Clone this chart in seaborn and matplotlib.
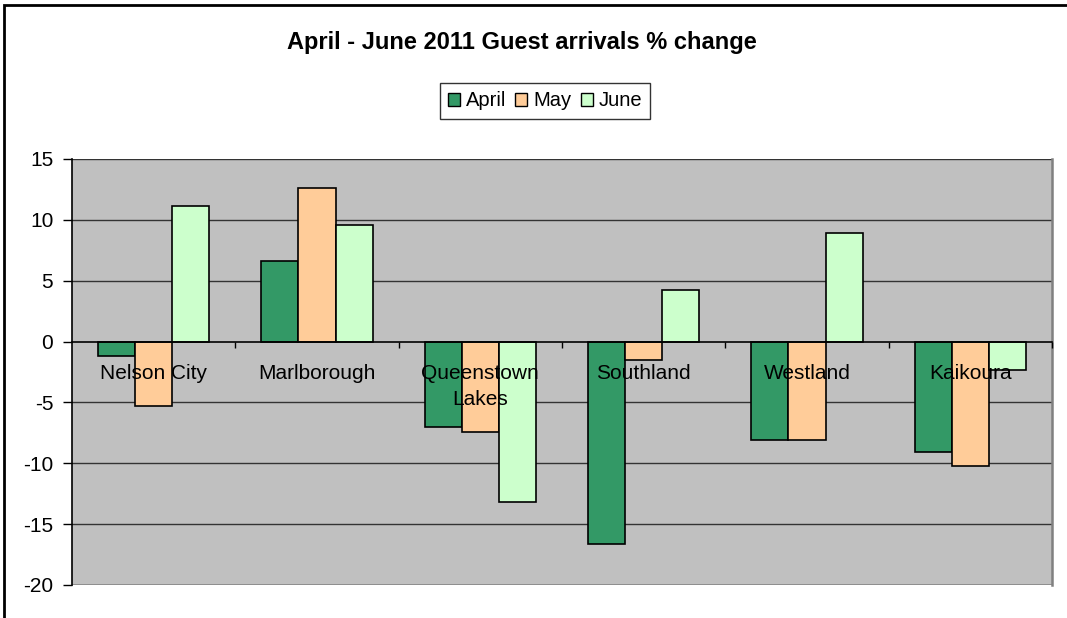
import matplotlib
matplotlib.use("Agg")
import matplotlib.pyplot as plt
import seaborn as sns
import pandas as pd

regions = ["Nelson City", "Marlborough", "Queenstown Lakes", "Southland", "Westland", "Kaikoura"]
region_labels = ["Nelson City", "Marlborough", "Queenstown\nLakes", "Southland", "Westland", "Kaikoura"]
months = ["April", "May", "June"]
april = [-1.15, 6.65, -7.0, -16.6, -8.05, -9.1]
may = [-5.3, 12.6, -7.4, -1.5, -8.05, -10.2]
june = [11.1, 9.55, -13.2, 4.2, 8.95, -2.35]
colors = ["#339966", "#FFCC99", "#CCFFCC"]
yticks = [-20, -15, -10, -5, 0, 5, 10, 15]

rows = []
for m, vals in zip(months, [april, may, june]):
    for r, v in zip(regions, vals):
        rows.append({"Region": r, "Month": m, "Value": v})
df = pd.DataFrame(rows)

sns.set_theme(style="white")
plt.rcParams['font.family'] = ['Liberation Sans', 'DejaVu Sans']
plt.rcParams['text.color'] = 'black'
plt.rcParams['xtick.color'] = 'black'
plt.rcParams['ytick.color'] = 'black'
plt.rcParams['xtick.labelcolor'] = 'black'
plt.rcParams['ytick.labelcolor'] = 'black'

fig = plt.figure(figsize=(10.67, 6.18), dpi=100)
ax = fig.add_axes([72/1067, 33/618, (1052-72)/1067, (585-159)/618])
ax.set_facecolor("#C0C0C0")

sns.barplot(data=df, x="Region", y="Value", hue="Month", order=regions,
            hue_order=months, palette=colors, width=0.68, gap=0,
            edgecolor="black", linewidth=1.2, saturation=1, ax=ax,
            legend=True, zorder=2)

ax.set_ylim(-20, 15)
ax.set_xlim(-0.5, len(regions) - 0.5)
ax.set_yticks(yticks)
ax.set_yticklabels([str(t) for t in yticks], fontsize=15)
ax.set_axisbelow(False)
for t in yticks:
    if t == -20:
        ax.axhline(t, color="#808080", lw=1.8, zorder=0.6)
    elif t != 0:
        ax.axhline(t, color="#333333", lw=1, zorder=0.6)

ax.spines['bottom'].set_position(('data', 0))
ax.spines['bottom'].set_color('black')
ax.spines['bottom'].set_linewidth(1.2)
ax.spines['left'].set_color('black')
ax.spines['left'].set_linewidth(1.2)
ax.spines['top'].set_visible(False)
ax.spines['right'].set_color('#808080')
ax.spines['right'].set_linewidth(1.8)

ax.set_xticks(range(len(regions)))
ax.set_xticklabels(region_labels, fontsize=15, linespacing=1.45)
ax.set_xticks([i + 0.5 for i in range(len(regions))], minor=True)
ax.tick_params(axis='x', which='major', length=0, pad=16)
ax.tick_params(axis='x', which='minor', length=4, width=1, color='black', direction='out', bottom=True)
ax.tick_params(axis='y', which='major', length=6.5, width=1, color='black', direction='out', left=True, pad=7)
ax.set_xlabel("")
ax.set_ylabel("")

leg = ax.legend(loc="center", bbox_to_anchor=(545/1067, 1 - 101/618),
                bbox_transform=fig.transFigure, ncol=3, fontsize=14.5,
                frameon=True, fancybox=False, edgecolor="black",
                handlelength=0.6, handleheight=0.6, handletextpad=0.3,
                columnspacing=0.45, borderpad=0.4, borderaxespad=0)
leg.get_frame().set_linewidth(1)
for h in leg.legend_handles:
    h.set_edgecolor("black")
    h.set_linewidth(1)

fig.text(522/1067, 1 - 42/618, "April - June 2011 Guest arrivals % change",
         ha="center", va="center", fontsize=17, fontweight="bold")

fig.patches.append(plt.Rectangle((4/1067, -0.1), 1.2, 1 - 5/618 + 0.1,
                                 transform=fig.transFigure, fill=False,
                                 edgecolor="black", linewidth=2))

fig.savefig("out.png", dpi=100)
